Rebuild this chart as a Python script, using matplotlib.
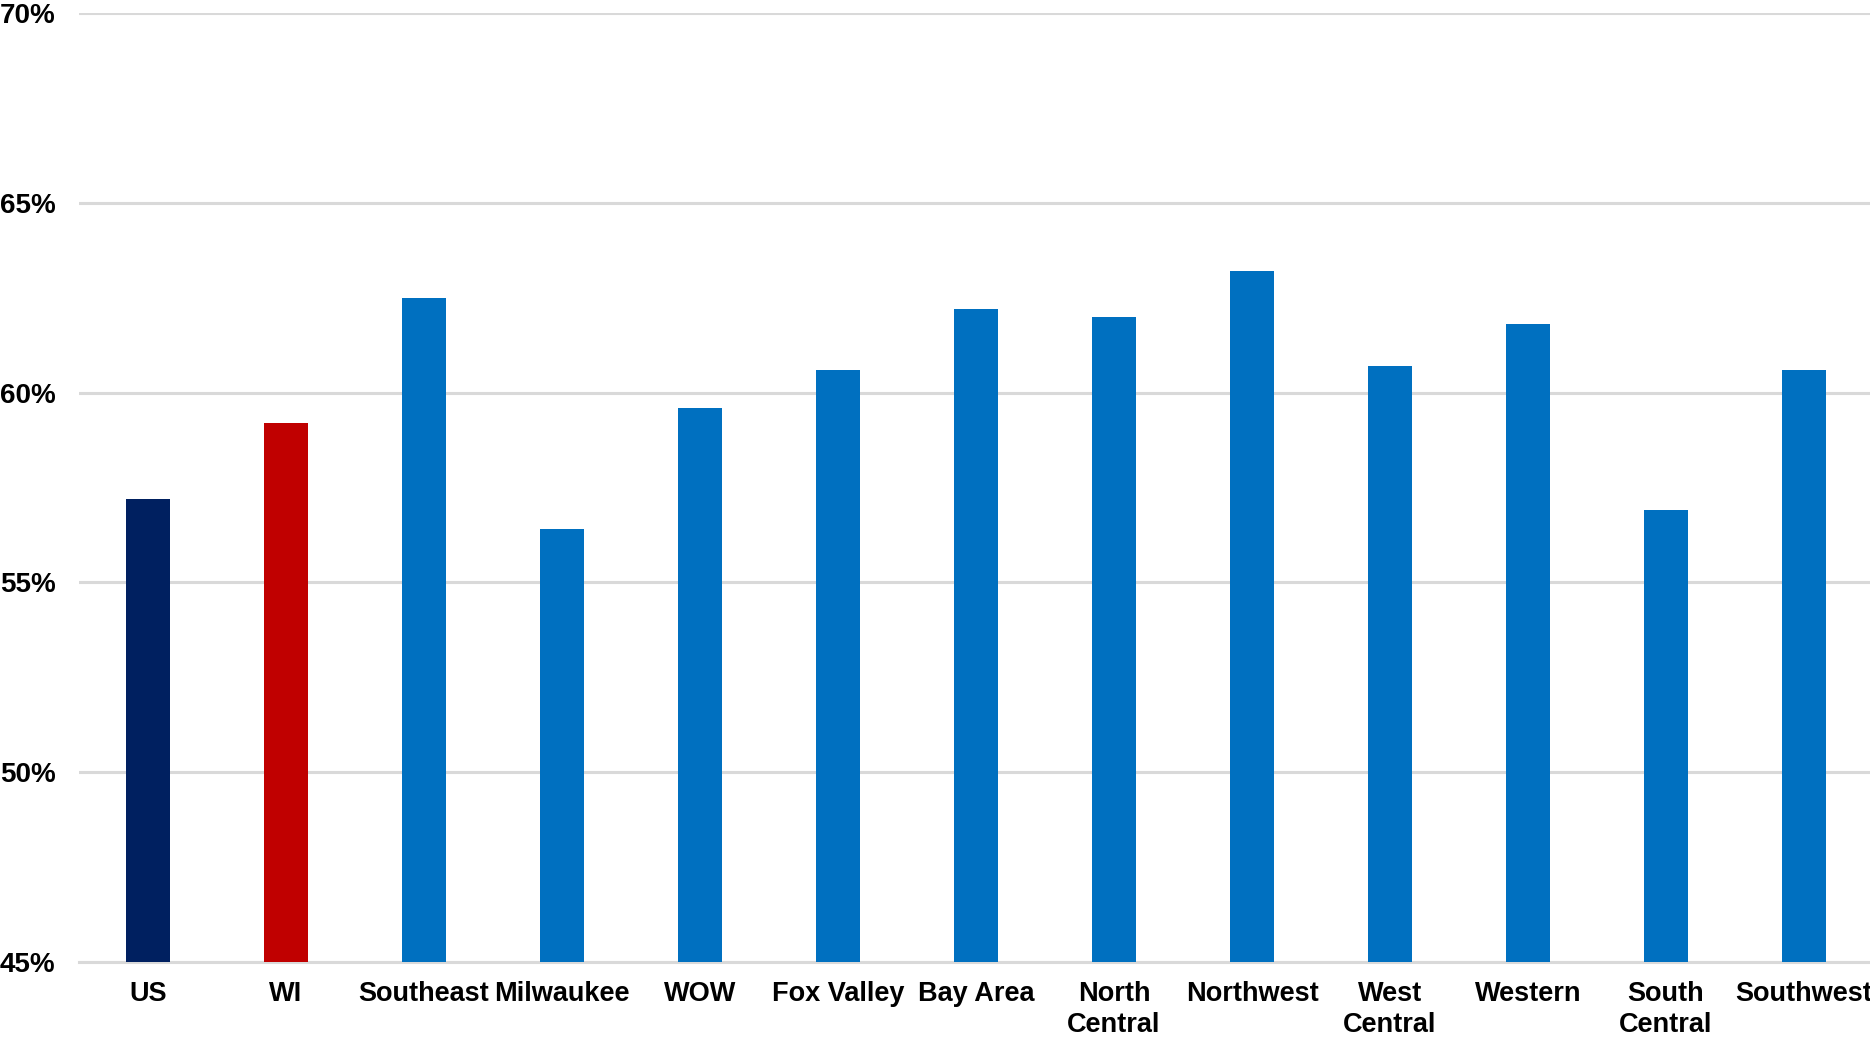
import matplotlib.pyplot as plt
from matplotlib.ticker import PercentFormatter

regions = ['US', 'WI', 'Southeast', 'Milwaukee', 'WOW', 'Fox Valley', 'Bay Area',
           'North\nCentral', 'Northwest', 'West\nCentral', 'Western', 'South\nCentral',
           'Southwest']
rates = [57.2, 59.2, 62.5, 56.4, 59.6, 60.6, 62.2, 62.0, 63.2, 60.7, 61.8, 56.9, 60.6]
colors = ['#002060', '#C00000'] + ['#0070C0'] * 11

plt.rcParams['font.family'] = ['Liberation Sans', 'DejaVu Sans']
plt.rcParams['font.weight'] = 'bold'

fig = plt.figure(figsize=(18.7, 10.38), dpi=100)
ax = fig.add_axes([79 / 1870, 76 / 1038, 1794 / 1870, 949 / 1038])

x = list(range(len(regions)))
ax.bar(x, rates, width=0.32, color=colors, zorder=3)

ax.set_xlim(-0.5, len(regions) - 0.5)
ax.set_ylim(45, 70)
ax.set_yticks([45, 50, 55, 60, 65, 70])
ax.yaxis.set_major_formatter(PercentFormatter(decimals=0))
ax.set_xticks(x)
ax.set_xticklabels(regions, fontsize=19.5, fontweight='bold', linespacing=1.25)
for lab in ax.get_yticklabels():
    lab.set_fontsize(20)
    lab.set_fontweight('bold')

ax.grid(axis='y', color='#d9d9d9', linewidth=2.2, zorder=0)
ax.tick_params(axis='both', length=0)
ax.tick_params(axis='y', pad=17)
ax.tick_params(axis='x', pad=14)
for s in ['top', 'right', 'left']:
    ax.spines[s].set_visible(False)
ax.spines['bottom'].set_color('#d9d9d9')
ax.spines['bottom'].set_linewidth(2.2)

fig.savefig('out.png', dpi=100)
